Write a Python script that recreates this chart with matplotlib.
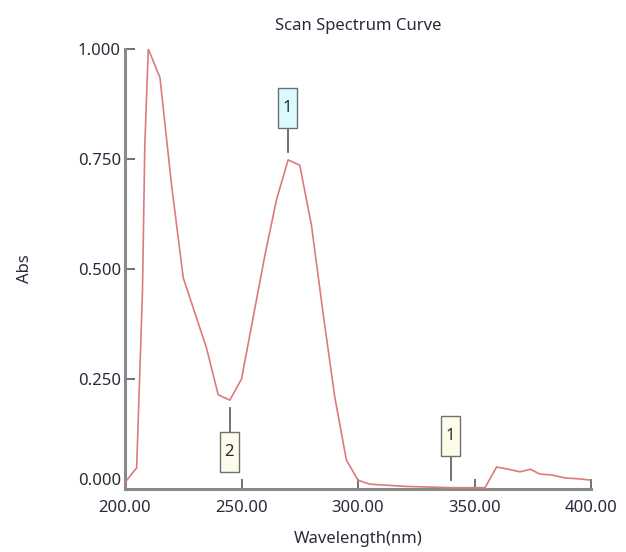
import matplotlib
matplotlib.use("Agg")
import matplotlib.pyplot as plt
import matplotlib.transforms as mtransforms
from matplotlib.patches import Rectangle
from matplotlib.lines import Line2D

# 스캔 스펙트럼 데이터
wavelength = [200, 205, 207.5, 208.5, 210, 215, 220, 225, 230, 235, 240, 245,
              250, 255, 260, 265, 270, 275, 280, 285, 290, 295, 300, 305,
              320, 340, 354.5, 359.5, 364.5, 369.5, 374, 378, 383, 389, 395, 400]
absorbance = [0.015, 0.048, 0.45, 0.78, 1.0, 0.935, 0.69, 0.48, 0.40, 0.32, 0.214, 0.202,
              0.25, 0.39, 0.53, 0.657, 0.748, 0.736, 0.60, 0.40, 0.21, 0.066, 0.02, 0.011,
              0.006, 0.003, 0.003, 0.05, 0.045, 0.039, 0.045, 0.034, 0.032, 0.025, 0.023, 0.02]

# 피크/밸리 마커: (파장, 라벨, 위/아래, 색)
marks_wl = [270, 245, 340]
marks_label = ["1", "2", "1"]
marks_up = [True, False, True]
marks_fill = ["#dcf9fd", "#fdfbea", "#fdfbea"]

xticks = [200, 250, 300, 350, 400]
yticks = [0.0, 0.25, 0.5, 0.75, 1.0]

txt_color = "#2a2a3a"
plt.rcParams["font.family"] = ["Noto Sans", "DejaVu Sans"]

fig = plt.figure(figsize=(6.26, 5.52), dpi=100)
ax = fig.add_axes([125 / 626, 63 / 552, 466 / 626, 440 / 552])

ax.plot(wavelength, absorbance, color="#dc7a7e", lw=1.2, zorder=3)

ax.set_xlim(200, 400)
ax.set_ylim(0, 1.0)
ax.set_xticks(xticks)
ax.set_xticklabels([f"{v:.2f}" for v in xticks])
ax.set_yticks(yticks)
ax.set_yticklabels([f"{v:.3f}" for v in yticks])

for s in ["top", "right"]:
    ax.spines[s].set_visible(False)
for s in ["left", "bottom"]:
    ax.spines[s].set_color("#8a8a8a")
    ax.spines[s].set_linewidth(2.2)

ax.tick_params(axis="both", direction="in", length=7, width=1.3, color="#666666",
               labelsize=12, labelcolor=txt_color)
ax.tick_params(axis="y", pad=3)
ax.tick_params(axis="x", pad=8)

# 0.000 라벨은 살짝 위로
lab0 = ax.get_yticklabels()[0]
lab0.set_transform(lab0.get_transform() + mtransforms.ScaledTranslation(0, 10 / 100, fig.dpi_scale_trans))

ax.set_title("Scan Spectrum Curve", fontsize=12, color=txt_color, pad=14)
ax.set_xlabel("Wavelength(nm)", fontsize=12, color=txt_color, labelpad=11)
ax.set_ylabel("Abs", fontsize=12, color=txt_color, labelpad=32)

# 마커 박스 그리기 (픽셀 단위 오프셋)
for wl, lab, up, fc in zip(marks_wl, marks_label, marks_up, marks_fill):
    idx = min(range(len(wavelength)), key=lambda i: abs(wavelength[i] - wl))
    yv = absorbance[idx]
    trans = fig.dpi_scale_trans + mtransforms.ScaledTranslation(wl, yv, ax.transData)
    sgn = 1 if up else -1
    ax.add_line(Line2D([0, 0], [sgn * 8 / 100, sgn * 32 / 100], transform=trans,
                       color="#666666", lw=1.3, clip_on=False, zorder=4))
    y0 = 32 / 100 if up else -72 / 100
    ax.add_patch(Rectangle((-10 / 100, y0), 19 / 100, 40 / 100, transform=trans,
                           facecolor=fc, edgecolor="#6f6f6f", lw=1.0, clip_on=False, zorder=5))
    ax.text(-0.5 / 100, y0 + 20 / 100, lab, transform=trans, ha="center", va="center",
            fontsize=12, color=txt_color, zorder=6)

fig.savefig("out.png", dpi=100)
